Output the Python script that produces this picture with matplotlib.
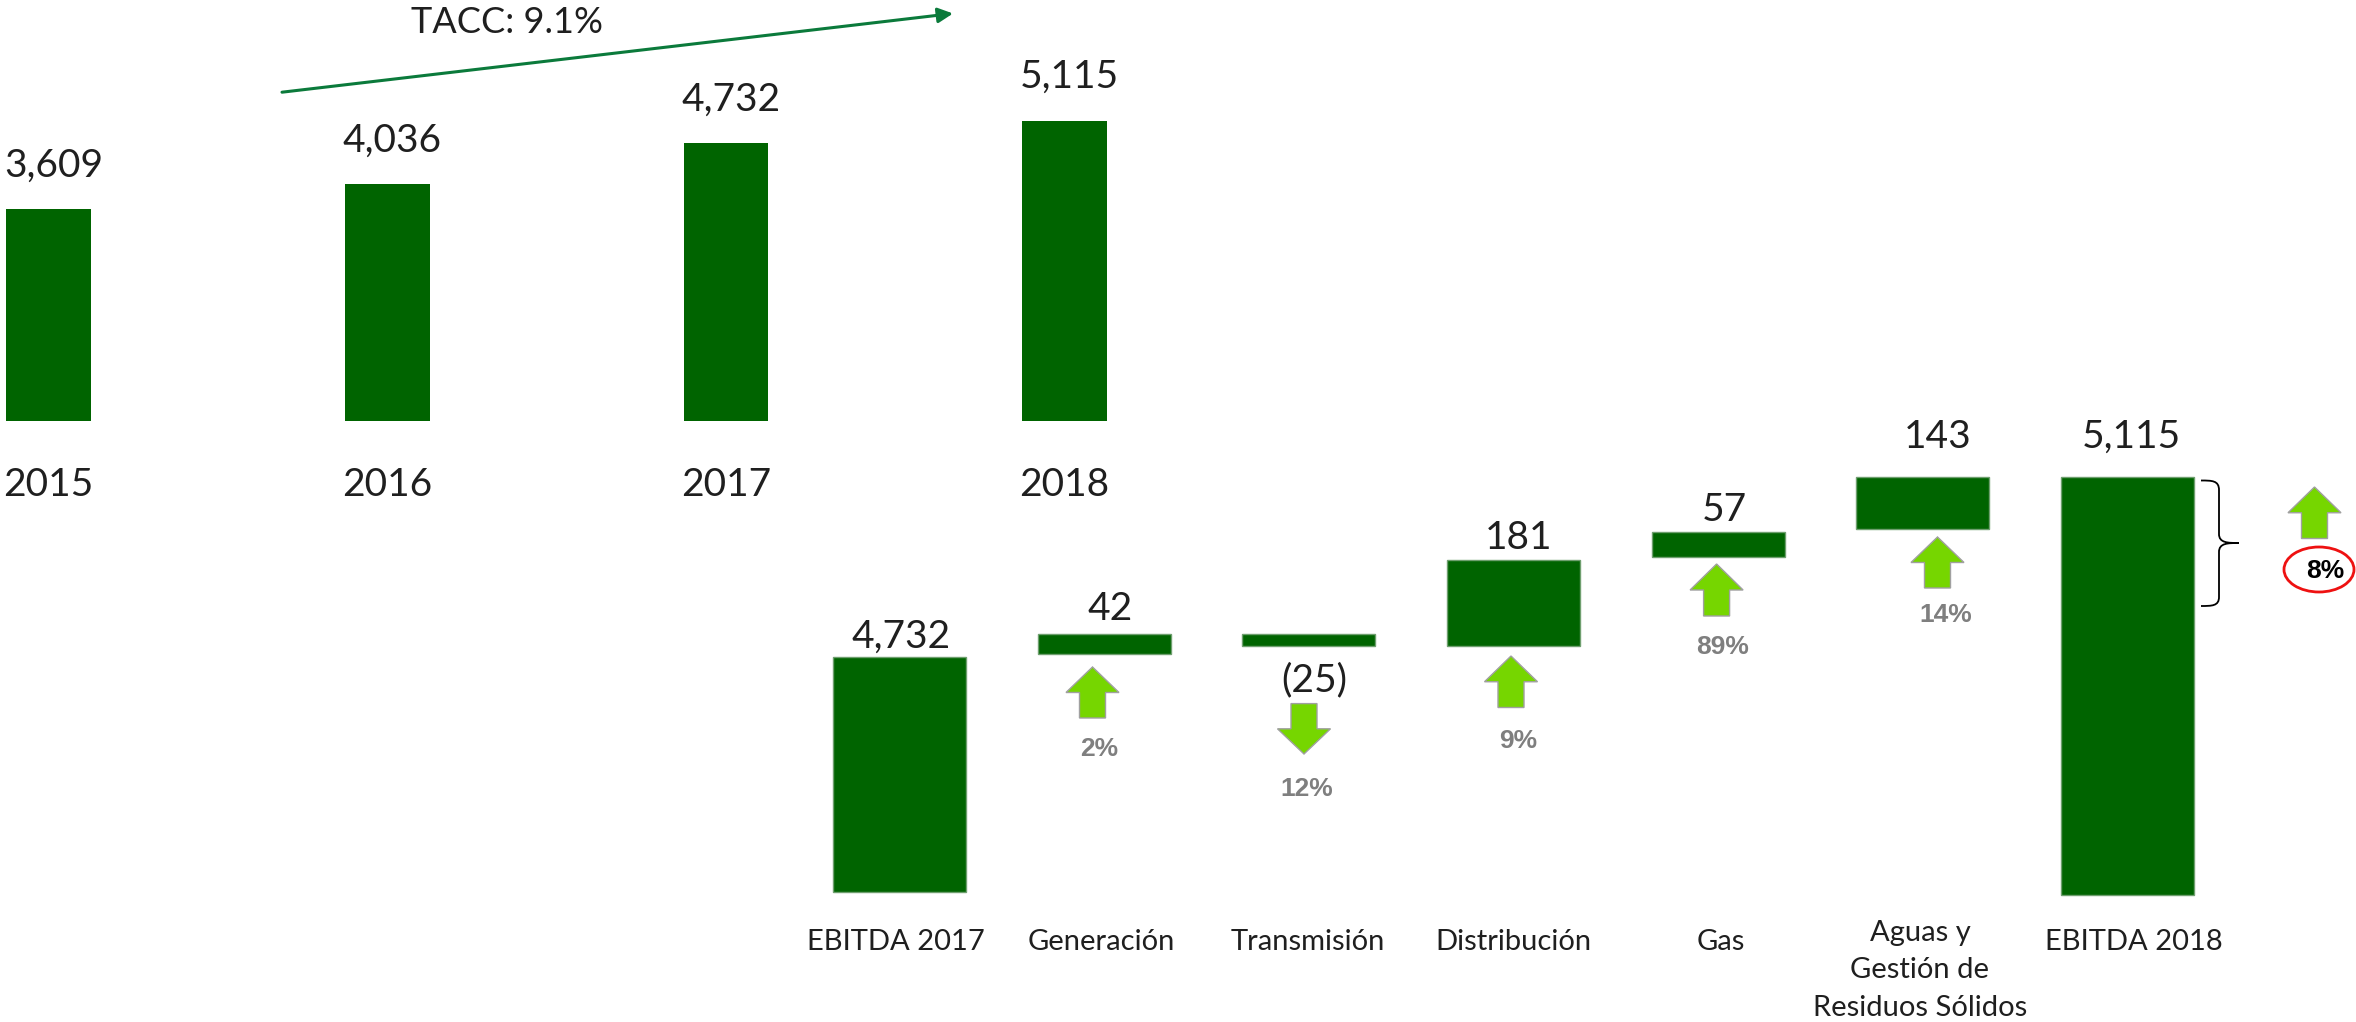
import matplotlib
matplotlib.use("Agg")
import matplotlib.pyplot as plt
from matplotlib.patches import Ellipse, Polygon, PathPatch
from matplotlib.path import Path
from matplotlib.transforms import ScaledTranslation

W, H = 2356, 1022
DPI = 100

# ---- data ----
years = ["2015", "2016", "2017", "2018"]
ebitda = [3609, 4036, 4732, 5115]

wf_categories = ["EBITDA 2017", "Generación", "Transmisión", "Distribución", "Gas",
                 "Aguas y\nGestión de\nResiduos Sólidos", "EBITDA 2018"]
wf_labels = ["4,732", "42", "(25)", "181", "57", "143", "5,115"]
# spans as drawn in the picture, on its truncated axis
wf_bottom = [4240, 4738, 4755, 4755, 4941, 5000, 4234]
wf_top = [4732, 4780, 4780, 4935, 4993, 5108, 5109]
wf_changes = ["2%", "12%", "9%", "89%", "14%"]
total_change = "8%"
cagr_label = "TACC: 9.1%"

# ---- style ----
BAR = "#006400"
EDGE = "#6f9f6f"
ARROW = "#76D600"
ARROW_EDGE = "#a0a0a0"
LINE = "#0B7A3B"
TEXT = "#1f1f1f"
SANS = "Lato"

fig = plt.figure(figsize=(W / DPI, H / DPI), dpi=DPI, facecolor="white")


def axes_px(x0, x1, y_top, y_bottom):
    return fig.add_axes([x0 / W, 1 - y_bottom / H, (x1 - x0) / W, (y_bottom - y_top) / H])


def clean(ax):
    for s in ax.spines.values():
        s.set_visible(False)
    ax.patch.set_alpha(0)
    ax.set_yticks([])


def nudge(label, dx, dy):
    label.set_transform(label.get_transform() +
                        ScaledTranslation(dx / DPI, -dy / DPI, fig.dpi_scale_trans))


# ---- upper bars ----
ax1 = axes_px(-120.85, 1233.9, 121, 421)
ax1.set_xlim(-0.5, 3.5)
ax1.set_ylim(0, 5115)
clean(ax1)
ax1.bar(range(4), ebitda, width=0.25, color=BAR, linewidth=0)
ax1.set_xticks(range(4), years, fontsize=28, family=SANS, color=TEXT)
ax1.tick_params(axis="x", length=0, pad=33)
for i, v in enumerate(ebitda):
    ax1.annotate(f"{v:,}", xy=(i, v), xytext=(5, 33), textcoords="offset pixels",
                 ha="center", va="baseline", fontsize=28, family=SANS, color=TEXT,
                 annotation_clip=False)

# ---- waterfall ----
ax2 = axes_px(797.15, 2230.0, 433.3, 911.3)
ax2.set_xlim(-0.5, 6.5)
ax2.set_ylim(4200, 5200)
clean(ax2)
ax2.bar(range(7), [t - b for t, b in zip(wf_top, wf_bottom)], bottom=wf_bottom,
        width=0.65, color=BAR, edgecolor=EDGE, linewidth=1)
ax2.set_xticks(range(7), wf_categories, fontsize=21, family=SANS, color=TEXT,
               linespacing=1.55)
ax2.tick_params(axis="x", length=0, pad=12.5)
tick_nudges = [(-4, 0), (-3, 0), (-1, 0), (0, 0), (3, 0), (-3, -9), (6, 0)]
for lab, (dx, dy) in zip(ax2.get_xticklabels(), tick_nudges):
    nudge(lab, dx, dy)

label_offsets = [(2, 9), (6, 14), (5.5, -45), (5, 11), (6, 11), (15, 29), (4, 29)]
anchors = [wf_top[0], wf_top[1], wf_bottom[2], wf_top[3], wf_top[4], wf_top[5], wf_top[6]]
for i, (txt, y, off) in enumerate(zip(wf_labels, anchors, label_offsets)):
    ax2.annotate(txt, xy=(i, y), xytext=off, textcoords="offset pixels",
                 ha="center", va="baseline", fontsize=28, family=SANS, color=TEXT,
                 annotation_clip=False)

# ---- annotation layer in pixel coordinates ----
ov = fig.add_axes([0, 0, 1, 1])
ov.set_xlim(0, W)
ov.set_ylim(H, 0)
ov.axis("off")
ov.patch.set_alpha(0)


def block_arrow(cx, y_tip, y_end):
    sign = 1 if y_end > y_tip else -1
    length = abs(y_end - y_tip)
    y_head = y_tip + sign * length / 2
    pts = [(cx, y_tip), (cx + 26.5, y_head), (cx + 13, y_head), (cx + 13, y_end),
           (cx - 13, y_end), (cx - 13, y_head), (cx - 26.5, y_head)]
    ov.add_patch(Polygon(pts, closed=True, facecolor=ARROW, edgecolor=ARROW_EDGE, linewidth=1))


for cx, tip, end in [(1092.5, 667, 718), (1304, 754, 703.6), (1511, 656, 707.5),
                     (1716.6, 564, 616), (1937.5, 537, 588), (2314.5, 487, 538.5)]:
    block_arrow(cx, tip, end)

pct_pos = [(1099, 746), (1307, 786), (1518, 739), (1723, 645), (1946, 613)]
for txt, (x, y) in zip(wf_changes, pct_pos):
    ov.text(x, y, txt, ha="center", va="center_baseline", fontsize=19, fontweight="bold",
            family="Liberation Sans", color="#7F7F7F")
ov.text(2325, 568, total_change, ha="center", va="center_baseline", fontsize=19,
        fontweight="bold", family="Liberation Sans", color="black")
ov.add_patch(Ellipse((2319, 569.5), 70, 45, facecolor="none", edgecolor="#EE1111", linewidth=2))

# brace
verts = [(2201, 480.5), (2212, 480.5), (2219, 480.5), (2219, 490),
         (2219, 534),
         (2219, 543), (2228, 543), (2239, 543),
         (2228, 543), (2219, 543), (2219, 552),
         (2219, 597),
         (2219, 606), (2212, 606), (2201, 606)]
codes = [Path.MOVETO, Path.CURVE4, Path.CURVE4, Path.CURVE4, Path.LINETO,
         Path.CURVE4, Path.CURVE4, Path.CURVE4, Path.CURVE4, Path.CURVE4, Path.CURVE4,
         Path.LINETO, Path.CURVE4, Path.CURVE4, Path.CURVE4]
ov.add_patch(PathPatch(Path(verts, codes), facecolor="none", edgecolor="black", linewidth=1.3))

# growth arrow
ov.annotate("", xy=(953, 13.5), xytext=(282, 92.2),
            arrowprops=dict(arrowstyle="-|>,head_length=0.9,head_width=0.45", color=LINE,
                            lw=2.2, shrinkA=0, shrinkB=0))
ov.text(507, 33, cagr_label, ha="center", va="baseline", fontsize=26, family=SANS, color=TEXT)

fig.savefig("out.png", dpi=DPI, facecolor="white")
